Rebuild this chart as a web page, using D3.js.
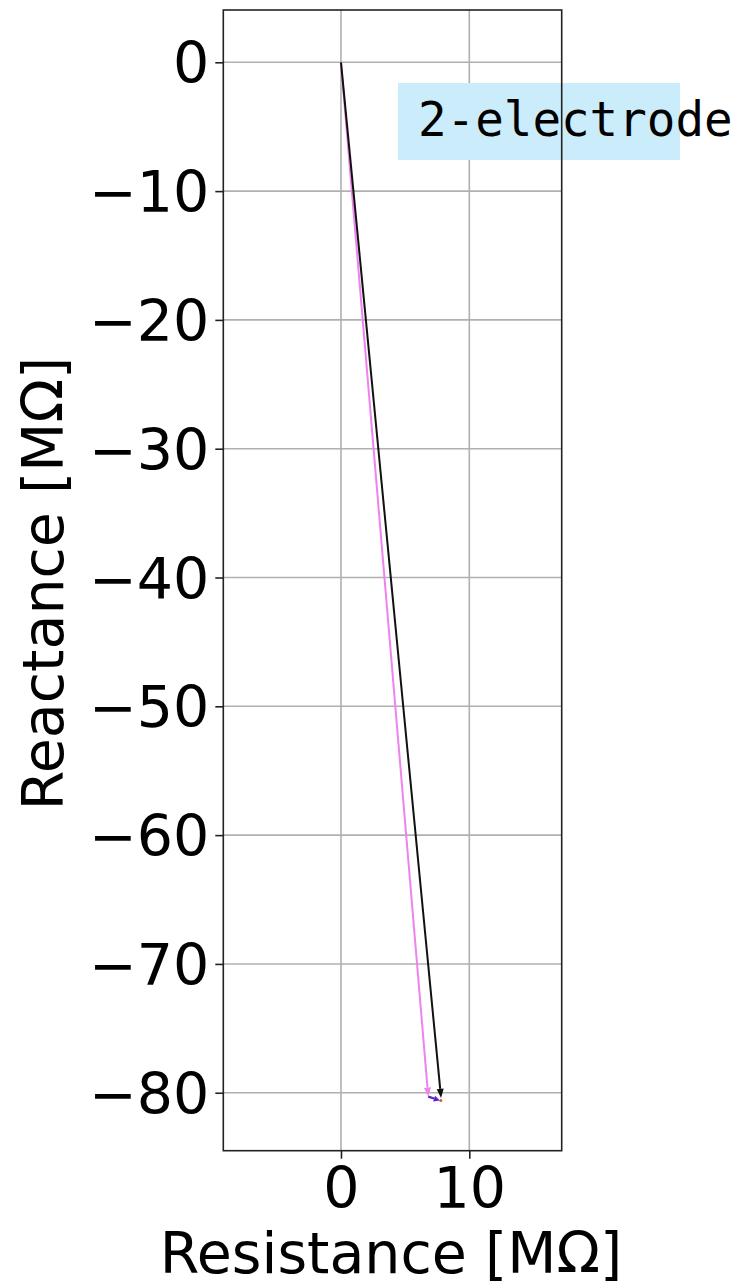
<!DOCTYPE html>
<html><head><meta charset="utf-8">
<script src="https://cdn.jsdelivr.net/npm/d3@7"></script>
<style>body{margin:0;background:#fff}svg{display:block}</style>
</head><body>
<script>
// Data
const xTicks = [0, 10];
const yTicks = [0, -10, -20, -30, -40, -50, -60, -70, -80];
const xDomain = [-9.17, 17.2];
const yDomain = [-84.5, 4.06];
const seriesNames = ["black", "violet", "purple"];
const blackPath = [[0, 0], [7.8, -80.4]];
const violetPath = [[0, 0], [6.8, -80.3]];
const purplePath = [[6.8, -80.3], [7.7, -80.6]];
const annotation = "2-electrode";
const xLabel = "Resistance [MΩ]";
const yLabel = "Reactance [MΩ]";

const W = 740, H = 1287;
const m = {left: 223.3, right: 740 - 561.7, top: 10, bottom: 1287 - 1150.7};
const svg = d3.select("body").append("svg").attr("width", W).attr("height", H);
const x = d3.scaleLinear().domain(xDomain).range([m.left, W - m.right]);
const y = d3.scaleLinear().domain(yDomain).range([H - m.bottom, m.top]);
const font = "DejaVu Sans, sans-serif";

// grid
const g = svg.append("g");
g.selectAll(".gx").data(xTicks).enter().append("line")
  .attr("x1", d => x(d)).attr("x2", d => x(d)).attr("y1", y.range()[1]).attr("y2", y.range()[0])
  .attr("stroke", "#b0b0b0").attr("stroke-width", 1.6);
g.selectAll(".gy").data(yTicks).enter().append("line")
  .attr("y1", d => y(d)).attr("y2", d => y(d)).attr("x1", x.range()[0]).attr("x2", x.range()[1])
  .attr("stroke", "#b0b0b0").attr("stroke-width", 1.6);

// annotation box
const bx = 398, by = 83, bw = 282, bh = 77;
svg.append("rect").attr("x", bx).attr("y", by).attr("width", bw).attr("height", bh).attr("fill", "#cbecfa");

// arrows
function arrow(path, color, width, head) {
  const [p0, p1] = path.map(p => [x(p[0]), y(p[1])]);
  const dx = p1[0] - p0[0], dy = p1[1] - p0[1];
  const L = Math.hypot(dx, dy), ux = dx / L, uy = dy / L;
  const hl = head[0], hw = head[1];
  const bxp = p1[0] - ux * hl, byp = p1[1] - uy * hl;
  svg.append("line").attr("x1", p0[0]).attr("y1", p0[1]).attr("x2", bxp).attr("y2", byp)
    .attr("stroke", color).attr("stroke-width", width);
  svg.append("path").attr("d", d3.line()([[p1[0], p1[1]], [bxp - uy * hw, byp + ux * hw], [bxp + uy * hw, byp - ux * hw]]) + "Z")
    .attr("fill", color);
}
arrow(violetPath, "#ee82ee", 2, [9, 3.5]);
arrow(blackPath, "#111", 2, [9, 3.5]);
arrow(purplePath, "#5b22c8", 2.2, [6, 3]);
svg.append("circle").attr("cx", x(purplePath[1][0]) + 1).attr("cy", y(purplePath[1][1])).attr("r", 1.5).attr("fill", "#d9534f");

// annotation text
svg.append("text").attr("x", 418).attr("y", 136).attr("font-family", "DejaVu Sans Mono, monospace")
  .attr("font-size", 47.5).attr("fill", "#000").text(annotation);

// frame
svg.append("rect").attr("x", x.range()[0]).attr("y", y.range()[1])
  .attr("width", x.range()[1] - x.range()[0]).attr("height", y.range()[0] - y.range()[1])
  .attr("fill", "none").attr("stroke", "#222").attr("stroke-width", 1.6);

// axes
const xa = svg.append("g").attr("transform", `translate(0,${y.range()[0]})`)
  .call(d3.axisBottom(x).tickValues(xTicks).tickSize(8).tickPadding(6).tickFormat(d3.format("d")));
const ya = svg.append("g").attr("transform", `translate(${x.range()[0]},0)`)
  .call(d3.axisLeft(y).tickValues(yTicks).tickSize(8).tickPadding(6).tickFormat(d => d < 0 ? "\u2212" + Math.abs(d) : d));
[xa, ya].forEach(a => {
  a.select(".domain").remove();
  a.selectAll(".tick line").attr("stroke", "#222").attr("stroke-width", 1.6);
  a.selectAll(".tick text").attr("font-family", font).attr("font-size", 57).attr("fill", "#000");
});
ya.selectAll(".tick text").attr("dy", "0.36em");
xa.selectAll(".tick text").attr("dy", "0.76em");

svg.append("text").attr("x", 391).attr("y", 1273)
  .attr("text-anchor", "middle").attr("font-family", font).attr("font-size", 57).text(xLabel);
svg.append("text").attr("transform", `translate(63,583.5) rotate(-90)`)
  .attr("text-anchor", "middle").attr("font-family", font).attr("font-size", 57).text(yLabel);
</script>
</body></html>
